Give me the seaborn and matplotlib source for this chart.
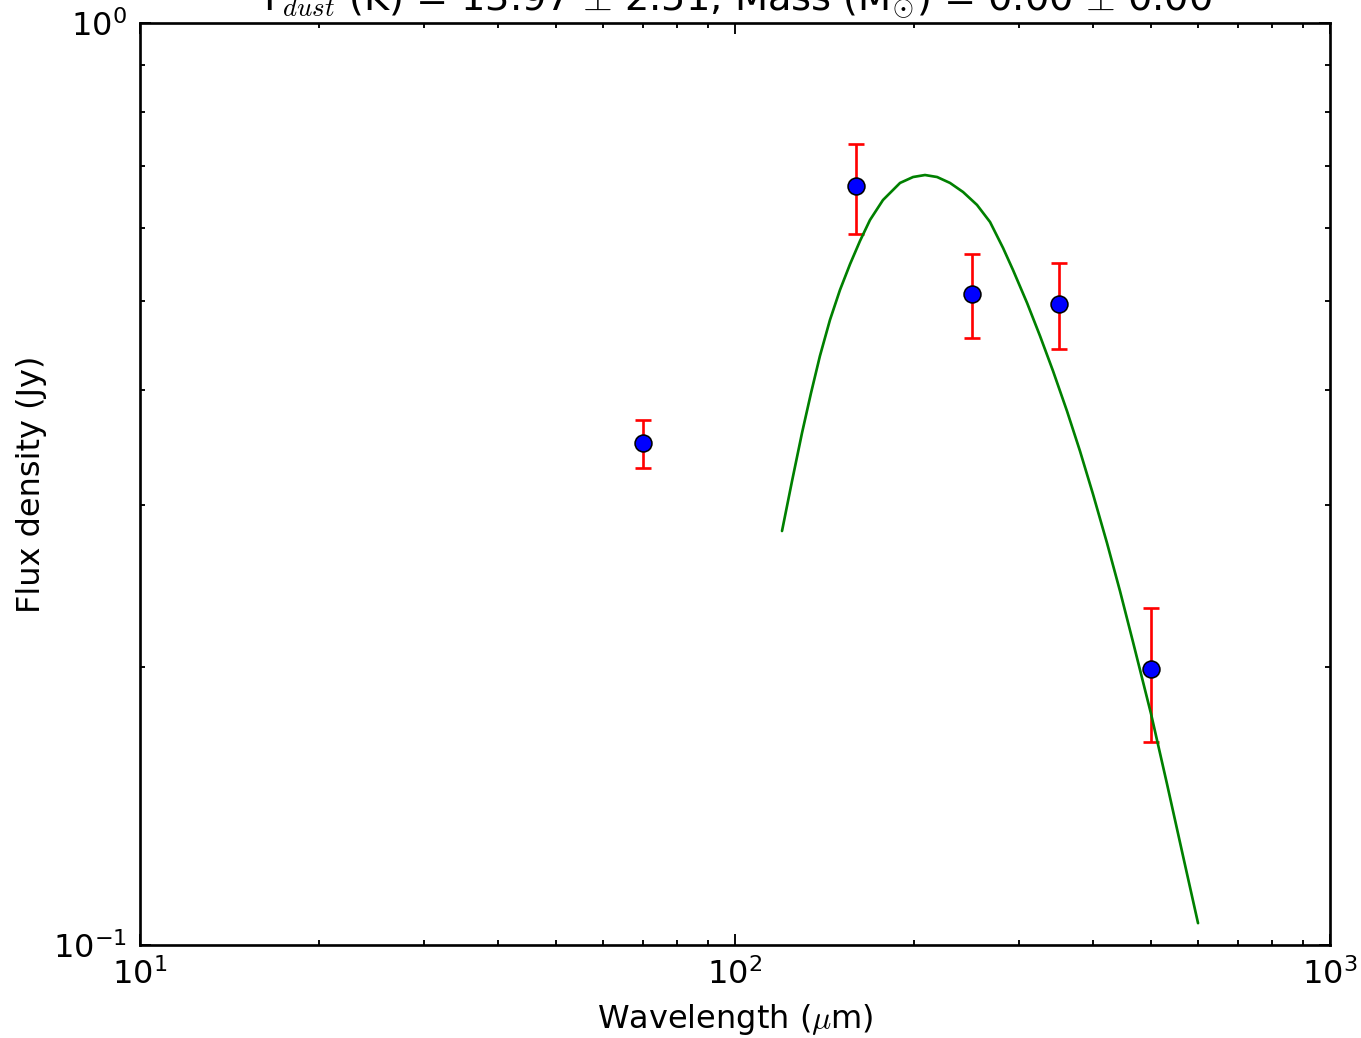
import matplotlib
matplotlib.use('Agg')
import matplotlib.pyplot as plt
import matplotlib.ticker as mticker
import seaborn as sns
import pandas as pd

# observed photometry
wavelength = [70, 160, 250, 350, 500]
flux = [0.350, 0.665, 0.508, 0.496, 0.199]
flux_err = [0.021, 0.074, 0.053, 0.053, 0.033]

# fitted greybody model
model_wave = [119.95, 124.7, 129.6, 134.2, 138.9, 144.4, 150.1, 156.1, 162.2, 168.6,
              177.3, 189.4, 199.2, 208.6, 218.6, 229.8, 241.7, 255.1, 268.3, 282.2,
              293.3, 309.7, 325.6, 342.4, 361.4, 380.0, 399.6, 421.9, 443.7, 466.6,
              500.3, 532.2, 566.2, 600.1]
model_flux = [0.2812, 0.3186, 0.3592, 0.3969, 0.4353, 0.4763, 0.5133, 0.5477, 0.5802, 0.6114,
              0.6427, 0.6707, 0.6807, 0.6841, 0.6807, 0.6707, 0.6557, 0.6349, 0.6084, 0.5701,
              0.5395, 0.4969, 0.4576, 0.4193, 0.3794, 0.3434, 0.3084, 0.2729, 0.2420, 0.2131,
              0.1781, 0.1495, 0.1249, 0.1056]

title = r'T$_{dust}$ (K) = 13.97 $\pm$ 2.51, Mass (M$_{\odot}$) = 0.00 $\pm$ 0.00'

sns.set_style('ticks')
plt.rcParams['font.family'] = ['DejaVu Sans']
plt.rcParams['mathtext.fontset'] = 'cm'
plt.rcParams['text.color'] = 'black'
plt.rcParams['axes.labelcolor'] = 'black'
plt.rcParams['xtick.color'] = 'black'
plt.rcParams['ytick.color'] = 'black'

obs = pd.DataFrame({'wave': wavelength, 'flux': flux, 'err': flux_err})
model = pd.DataFrame({'wave': model_wave, 'flux': model_flux})

dpi = 192
fig = plt.figure(figsize=(1361 / dpi, 1038 / dpi), dpi=dpi)
ax = fig.add_axes([140 / 1361, 1 - 945 / 1038, 1190 / 1361, 922 / 1038])

ax.errorbar(obs['wave'], obs['flux'], yerr=obs['err'], fmt='none',
            ecolor='red', elinewidth=1, capsize=3, capthick=1, zorder=2)
sns.lineplot(data=model, x='wave', y='flux', color='green', linewidth=1,
             sort=False, ax=ax, zorder=3)
sns.scatterplot(data=obs, x='wave', y='flux', color='blue', s=40,
                edgecolor='black', linewidth=0.6, ax=ax, zorder=4)

ax.set_xscale('log')
ax.set_yscale('log')
ax.set_xlim(10, 1000)
ax.set_ylim(0.1, 1)
ax.xaxis.set_minor_formatter(mticker.NullFormatter())
ax.yaxis.set_minor_formatter(mticker.NullFormatter())

ax.set_xlabel(r'Wavelength ($\mu$m)', fontsize=12, labelpad=4)
ax.set_ylabel('Flux density (Jy)', fontsize=12, labelpad=2)
ax.set_title(title, fontsize=14.4, pad=4.9)

ax.tick_params(which='both', top=True, right=True, direction='in', labelsize=12,
               colors='black', width=0.7)
ax.tick_params(which='major', length=4, pad=5)
ax.tick_params(which='minor', length=2)
for s in ax.spines.values():
    s.set_linewidth(1)
    s.set_color('black')

fig.savefig('out.png', dpi=dpi)
plt.close(fig)
